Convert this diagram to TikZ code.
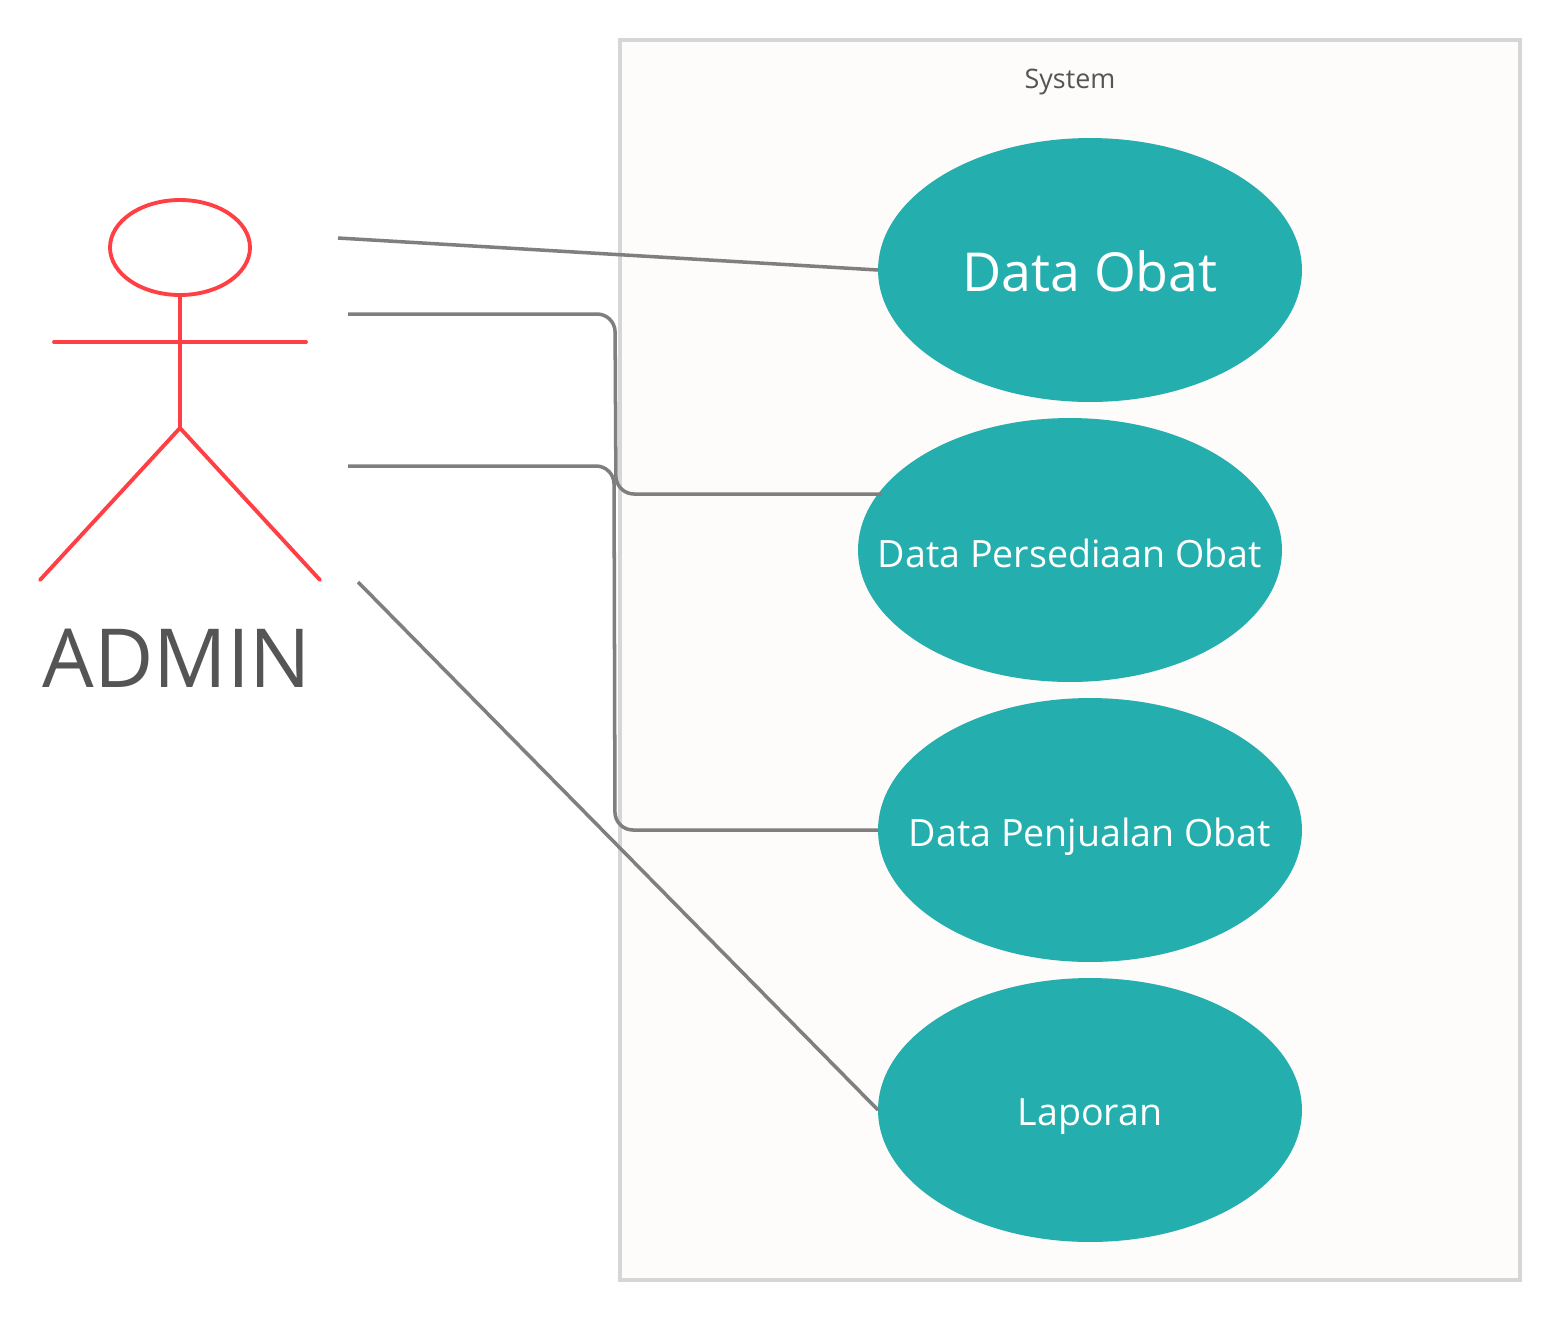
\documentclass[tikz,border=0pt]{standalone}
\usepackage{fontspec}
\setmainfont{Open Sans}
\usetikzlibrary{shapes.geometric}
\definecolor{teal1}{HTML}{24AEAD}
\definecolor{red1}{HTML}{FF3F43}
\definecolor{wire}{HTML}{7F7F7F}
\definecolor{txt}{HTML}{555555}
\definecolor{sysfill}{HTML}{FDFCFA}
\definecolor{sysline}{HTML}{D6D6D6}
\tikzset{
  x=0.02cm,y=-0.02cm,
  usecase/.style={ellipse,fill=teal1,draw=none,minimum width=8.48cm,minimum height=5.28cm,inner sep=0pt,text=white},
  actorline/.style={draw=red1,line width=2.2pt,line cap=round},
  wireline/.style={draw=wire,line width=2pt,rounded corners=0.36cm},
  smalltext/.style={text=white,font=\fontsize{21.4}{26}\selectfont},
}
\begin{document}
\begin{tikzpicture}
\useasboundingbox (0,0) rectangle (1560,1320);
\fill[white] (0,0) rectangle (1560,1320);
\node[draw=sysline,fill=sysfill,line width=2.6pt,minimum width=18cm,minimum height=24.8cm,inner sep=0pt] (sys) at (1070,660) {};
\node[text=txt,font=\fontsize{15.3}{19}\selectfont] (syslabel) at (1070,82) {System};
\node[usecase] (u1) at (1090,270) {};
\node[usecase] (u2) at (1070,550) {};
\node[usecase] (u3) at (1090,830) {};
\node[usecase] (u4) at (1090,1110) {};
\node[text=white,font=\fontsize{30.6}{36}\selectfont] (t1) at (1090,271) {Data Obat};
\node[smalltext] (t2) at (1070,553) {Data Persediaan Obat};
\node[smalltext] (t3) at (1090,837) {Data Penjualan Obat};
\node[smalltext] (t4) at (1090,1117) {Laporan};
% actor
\node[draw=red1,line width=2.2pt,ellipse,minimum width=2.8cm,minimum height=1.9cm,inner sep=0pt] (head) at (180,247.5) {};
\coordinate (hip) at (180,428);
\coordinate (lf) at (40,580);
\coordinate (rf) at (320,580);
\coordinate (al) at (54,342);
\coordinate (ar) at (306,342);
\draw[actorline] (head.south) -- (hip);
\draw[actorline] (al) -- (ar);
\draw[actorline] (lf) -- (hip) -- (rf);
\node[text=txt,font=\fontsize{46.4}{54}\selectfont] (admin) at (177,658) {ADMIN};
% connectors
\coordinate (a1) at (338,238);
\coordinate (a2) at (348,314);
\coordinate (a3) at (348,466);
\coordinate (a4) at (358,582);
\coordinate (e1) at (878,270);
\coordinate (e2) at (882,494);
\coordinate (e3) at (878,830);
\coordinate (e4) at (878,1110);
\draw[wireline] (a1) -- (e1);
\draw[wireline] (a2) -- (615,314) -- (616,494) -- (e2);
\draw[wireline] (a3) -- (614,466) -- (615,830) -- (e3);
\draw[wireline] (a4) -- (e4);
\end{tikzpicture}
\end{document}
